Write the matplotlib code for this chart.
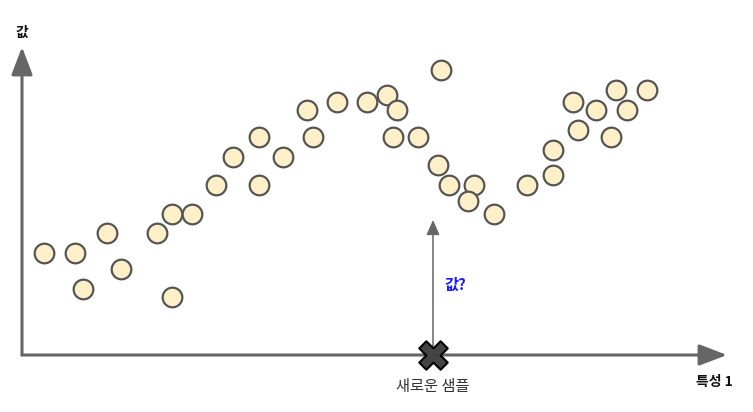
import matplotlib
matplotlib.use('Agg')
import matplotlib.pyplot as plt

### Fonts (Korean labels)
plt.rcParams['font.family'] = ['Noto Sans CJK KR', 'DejaVu Sans']

### Data (origin at the axes corner)
feature = [22, 53, 61, 85, 99, 135, 150, 170, 150, 194, 211, 237, 237, 261,
           285, 291, 315, 345, 365, 375, 371, 396, 419, 416, 427, 452, 446,
           472, 505, 531, 531, 556, 551, 574, 589, 594, 605, 625]
value = [102, 102, 66, 122, 86, 122, 141, 141, 58, 170, 198, 218, 170, 198,
         245, 218, 253, 253, 260, 245, 218, 218, 285, 190, 170, 170, 154,
         141, 170, 180, 205, 225, 253, 245, 218, 265, 245, 265]
new_sample = 411
query_height = 135

### Labels
y_label = '값'
x_label = '특성 1'
query_label = '값?'
sample_label = '새로운 샘플'

axis_color = '#666666'

fig = plt.figure(figsize=(7.53, 4.12), dpi=100)
ax = fig.add_axes([0, 0, 1, 1])
ax.set_xlim(-22, 731)
ax.set_ylim(-57, 355)
ax.axis('off')

### Main axes as arrows
ax.annotate('', xy=(0, 308), xytext=(0, 0),
            arrowprops=dict(arrowstyle='-|>,head_length=17,head_width=6.5',
                            mutation_scale=1, color=axis_color, lw=2.2,
                            shrinkA=0, shrinkB=0))
ax.annotate('', xy=(705, 0), xytext=(0, 0),
            arrowprops=dict(arrowstyle='-|>,head_length=17,head_width=6.5',
                            mutation_scale=1, color=axis_color, lw=2.2,
                            shrinkA=0, shrinkB=0))

### Query arrow above the new sample
ax.annotate('', xy=(new_sample, query_height), xytext=(new_sample, 0),
            arrowprops=dict(arrowstyle='-|>,head_length=9,head_width=4',
                            mutation_scale=1, color=axis_color, lw=1.1,
                            shrinkA=0, shrinkB=0))

### Training points
ax.scatter(feature, value, s=200, color='#fdf0c8', edgecolors='#555555',
           linewidths=1.6, zorder=3)

### New sample marker
ax.scatter([new_sample], [0], marker='X', s=420, color='#444444',
           edgecolors='black', linewidths=1.5, zorder=4)

### Texts
ax.text(0, 322, y_label, ha='center', va='center', fontsize=10,
        fontweight='bold', color='#111111')
ax.text(692, -27, x_label, ha='center', va='center', fontsize=10,
        fontweight='bold', color='#111111')
ax.text(433, 70, query_label, ha='center', va='center', fontsize=11,
        fontweight='bold', color='#1a1aff')
ax.text(new_sample, -32, sample_label, ha='center', va='center', fontsize=11,
        color='#333333')

fig.savefig('out.png', dpi=100)
